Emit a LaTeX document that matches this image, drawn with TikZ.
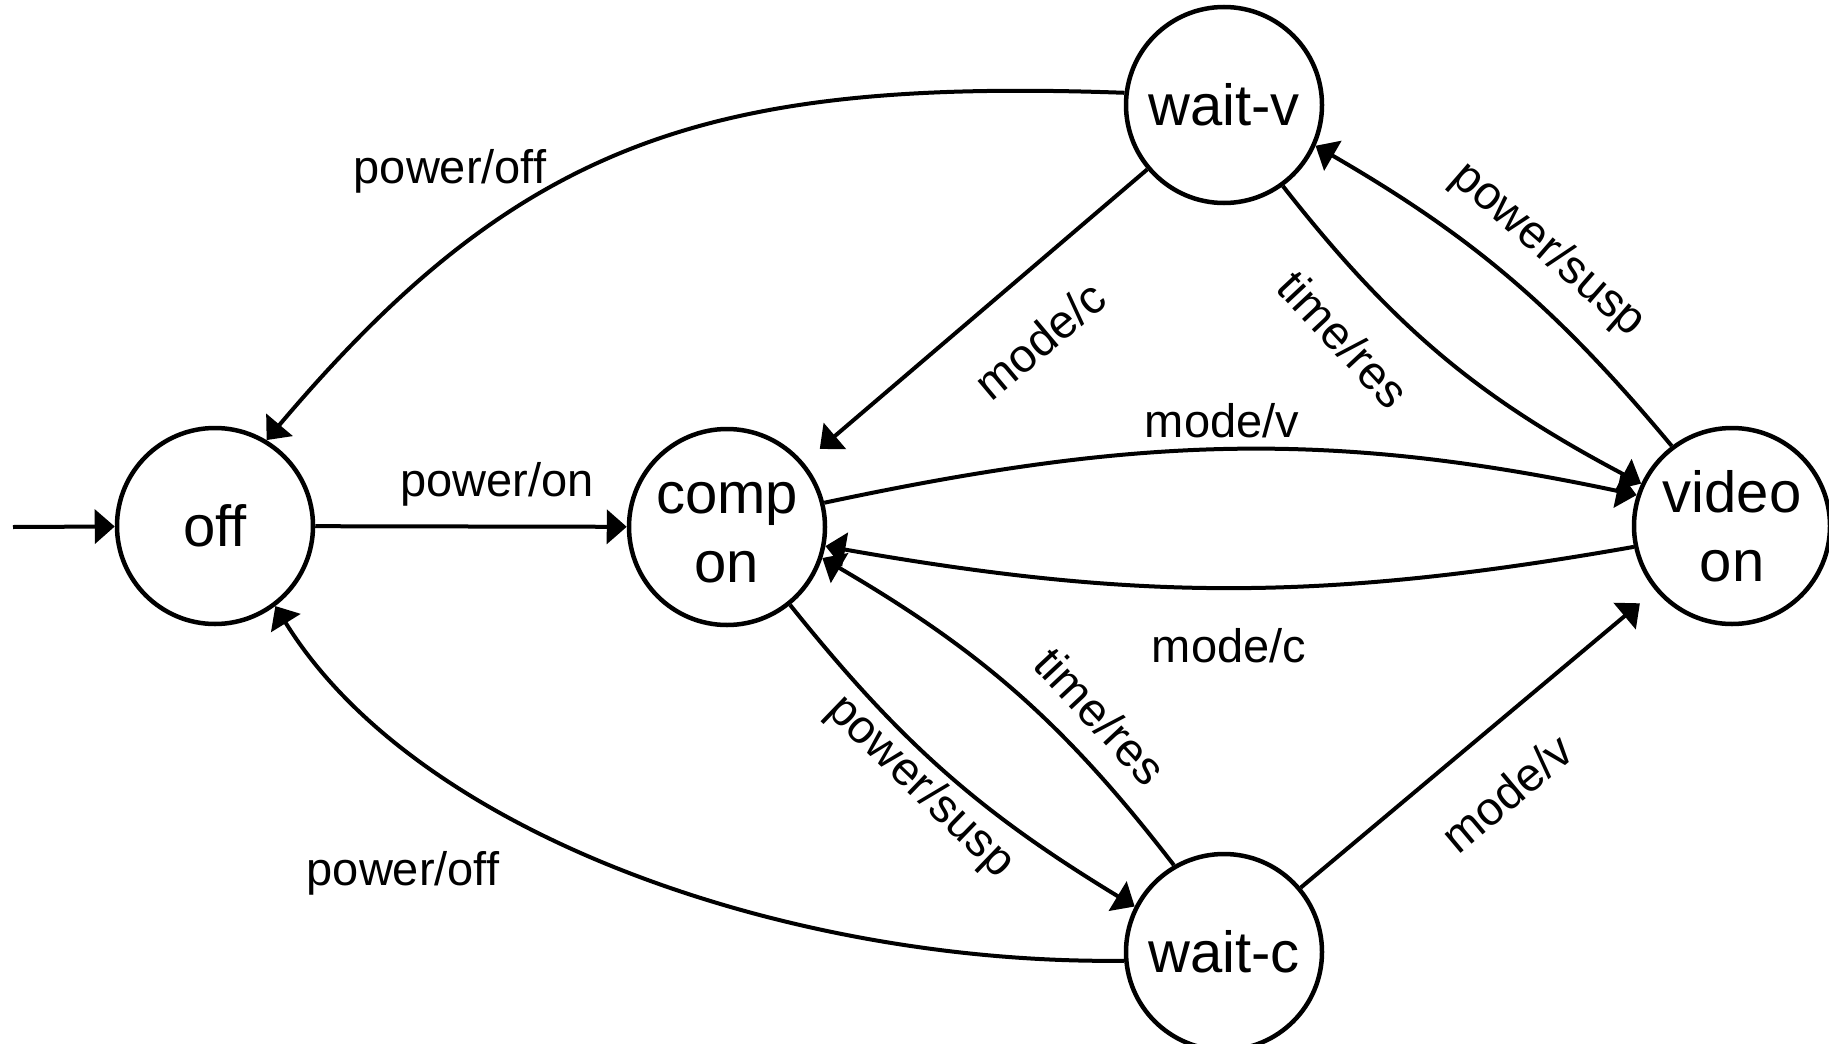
\documentclass[tikz,border=0pt]{standalone}
\usepackage{fontspec}
\setmainfont{Liberation Sans}
\usetikzlibrary{arrows.meta}
\begin{document}
\begin{tikzpicture}[x=1pt,y=-1pt,
  state/.style={circle, draw, line width=4.5pt, minimum size=196pt, inner sep=0pt,
    align=center, font=\fontsize{58}{69}\selectfont},
  trans/.style={line width=4pt, -{Triangle[length=20pt,width=34pt]}},
  lbl/.style={font=\fontsize{47}{56}\selectfont, inner sep=0pt}]
\useasboundingbox (0,0) rectangle (1829,1044);
% states
\node[state] (off)   at (215,526)  {off};
\node[state] (comp)  at (727,527)  {\vphantom{d}comp\\on};
\node[state] (video) at (1732,526) {video\\on};
\node[state] (wv)    at (1224,105) {wait-v};
\node[state] (wc)    at (1224,952) {wait-c};
\coordinate (init) at (13,527);
% transitions
\draw[trans] (init) -- (off);
\draw[trans] (off) -- (comp);
\draw[trans] (wv.173) .. controls (710,78) and (520,140) .. (off.59);
\draw[trans] (wc.185) .. controls (800,965) and (420,840) .. (off.-53);
\draw[trans, shorten >=21pt] (wv.220) -- (comp.40);
\draw[trans] (wv.-54) .. controls +(112,143) and +(-161,-85) .. (video.155);
\draw[trans] (video.127) .. controls +(-116,-139) and +(157,91) .. (wv.-24);
\draw[trans] (comp.14) .. controls +(310,-66) and +(-310,-66) .. (video.162);
\draw[trans] (video.192) .. controls +(-312,55) and +(312,55) .. (comp.-11);
\draw[trans] (comp.-51) .. controls +(112,140) and +(-153,-93) .. (wc.153);
\draw[trans] (wc.120) .. controls +(-111,-144) and +(157,92) .. (comp.-18);
\draw[trans, shorten >=20pt] (wc.40) -- (video.220);
% labels
\node[lbl, anchor=base] (l1) at (450,183) {power/off};
\node[lbl, anchor=base] (l2) at (497,496) {power/on};
\node[lbl, anchor=base] (l3) at (403,885) {power/off};
\node[lbl, anchor=base] (l4) at (1222,437) {mode/v};
\node[lbl, anchor=base] (l5) at (1229,662) {mode/c};
\node[lbl, rotate=40]  (l6) at (1040,340) {mode/c};
\node[lbl, rotate=-47] (l7) at (1344,339) {time/res};
\node[lbl, rotate=-41] (l8) at (1548,250) {power/susp};
\node[lbl, rotate=-47] (l9) at (1101,716) {time/res};
\node[lbl, rotate=-44] (l10) at (920,787) {power/susp};
\node[lbl, rotate=40]  (l11) at (1507,793) {mode/v};
\end{tikzpicture}
\end{document}
